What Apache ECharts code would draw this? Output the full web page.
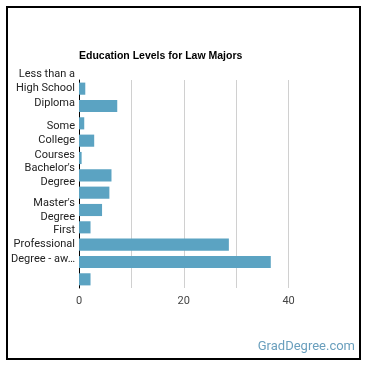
<!DOCTYPE html>
<html>
<head>
<meta charset="utf-8">
<script src="https://cdn.jsdelivr.net/npm/echarts@6/dist/echarts.min.js"></script>
<style>
  html, body { margin: 0; padding: 0; background: #fff; }
  #chart { width: 370px; height: 370px; }
</style>
</head>
<body>
<div id="chart"></div>
<script>
// categories (education levels), top to bottom
var categories = [
  'Less than a High School Diploma',
  'High School Diploma',
  'Post-Secondary Certificate',
  'Some College Courses',
  "Associate's Degree",
  "Bachelor's Degree",
  'Post-Baccalaureate Certificate',
  "Master's Degree",
  "Post-Master's Certificate",
  'First Professional Degree - awarded for completion of a program',
  'Doctoral Degree',
  'Post-Doctoral Training'
]
// shown tick labels (the chart only prints some of them)
var tickLabels = [
  'Less than a\nHigh School\nDiploma', '', '',
  'Some\nCollege\nCourses', '',
  "Bachelor's\nDegree", '',
  "Master's\nDegree", '',
  'First\nProfessional\nDegree - aw…', '', ''
]
// percent of workers
var values = [1.2, 7.3, 1.0, 2.9, 0.5, 6.2, 5.8, 4.4, 2.2, 28.6, 36.6, 2.2]
var xTicks = [0, 20, 40]

var chart = echarts.init(document.getElementById('chart'))
chart.setOption({
  animation: false,
  title: {
    text: 'Education Levels for Law Majors',
    left: 74,
    top: 46,
    textStyle: {
      fontFamily: 'Arial, "Liberation Sans"',
      fontSize: 10.5,
      fontWeight: 'bold',
      color: '#000'
    }
  },
  grid: {
    left: 79,
    right: 29,
    top: 80,
    bottom: 82
  },
  xAxis: {
    type: 'value',
    min: 0,
    max: 50,
    interval: 10,
    axisLine: { show: false },
    axisTick: { show: false },
    splitLine: {
      showMaxLine: false,
      lineStyle: { color: '#d0d0d0', width: 1 }
    },
    axisLabel: {
      margin: 8,
      color: '#444',
      fontFamily: 'Roboto',
      fontSize: 11,
      formatter: function(v) {
        return xTicks.indexOf(v) >= 0 ? String(v) : ''
      }
    }
  },
  yAxis: {
    type: 'category',
    inverse: true,
    data: categories,
    axisLine: { lineStyle: { color: '#000', width: 1 } },
    axisTick: { show: false },
    axisLabel: {
      interval: 0,
      margin: 4,
      align: 'right',
      color: '#222',
      fontFamily: 'Roboto',
      fontSize: 11,
      lineHeight: 14.5,
      formatter: function(v, i) {
        return tickLabels[i]
      }
    }
  },
  series: [{
    type: 'bar',
    data: values,
    barCategoryGap: '30%',
    itemStyle: { color: '#5ba3c2' }
  }],
  graphic: [
    {
      type: 'rect',
      shape: { x: 7, y: 7, width: 353, height: 352 },
      style: { fill: 'none', stroke: '#000', lineWidth: 2 }
    },
    {
      type: 'text',
      right: 15,
      top: 340,
      style: {
        text: 'GradDegree.com',
        fill: '#6a9fbd',
        font: '13px Roboto'
      }
    }
  ]
})
</script>
</body>
</html>
